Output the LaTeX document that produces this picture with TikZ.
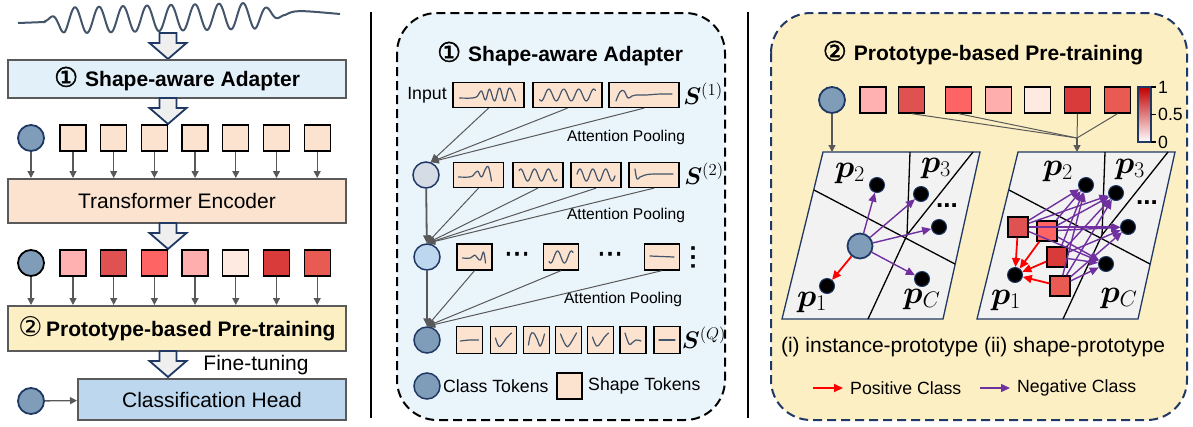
\RequirePackage{fix-cm}
\documentclass[tikz,border=0pt]{standalone}
\usepackage{fontspec}
\setmainfont{Liberation Sans}
\newfontfamily\djv{DejaVu Sans}
\newfontfamily\djvb[FakeBold=1.5]{DejaVu Sans}
\usepackage{bm}
\usetikzlibrary{arrows.meta}

\definecolor{navy}{HTML}{1F3864}
\definecolor{slate}{HTML}{44546A}
\definecolor{linegray}{HTML}{595959}
\definecolor{boxgray}{HTML}{5A5A5A}
\definecolor{arrowfill}{HTML}{EFEFEF}
\definecolor{peach}{HTML}{FBE3D0}
\definecolor{adapterblue}{HTML}{E2F0FA}
\definecolor{headblue}{HTML}{BDD7EE}
\definecolor{protoyellow}{HTML}{FDEFC4}
\definecolor{panelblue}{HTML}{EAF4FB}
\definecolor{clsblue}{HTML}{7F9DB8}
\definecolor{clsgray}{HTML}{D6DCE5}
\definecolor{planegray}{HTML}{F2F2F2}
\definecolor{negpurple}{HTML}{7030A0}
\definecolor{barred}{HTML}{C00000}
\definecolor{w1}{HTML}{FFB1B1}
\definecolor{w2}{HTML}{E05252}
\definecolor{w3}{HTML}{FF6464}
\definecolor{w4}{HTML}{FFAEAE}
\definecolor{w5}{HTML}{FFEAE2}
\definecolor{w6}{HTML}{D93B3B}
\definecolor{w7}{HTML}{E85A52}

\newcommand\fsmain{\fontsize{21}{25}\selectfont}
\newcommand\fssmall{\fontsize{17.7}{21}\selectfont}
\newcommand\fstiny{\fontsize{15.6}{19}\selectfont}
\newcommand\fsmath{\fontsize{24}{28}\selectfont}
\newcommand\fsproto{\fontsize{32}{36}\selectfont}
\newcommand\fsdots{\fontsize{26}{26}\selectfont}

% little signal sketches inside the shape tokens
\newcommand\trace[2]{\draw[shapeline, shift={(#1.center)}] plot[smooth, tension=0.7] coordinates {#2};}
\newcommand\tracesine[5]{\draw[shapeline, shift={(#1.center)}] plot[domain=#2:#3, samples=60] (\x,{#4*sin(#5*\x)});}

\begin{document}
\begin{tikzpicture}[x=1pt, y=-1pt,
    tok/.style={draw=black, line width=1.3pt, minimum size=26pt, inner sep=0pt},
    seg/.style={draw=black, line width=1.3pt, fill=peach, minimum height=25pt, inner sep=0pt},
    cls/.style={circle, draw=navy, line width=1.8pt, fill=clsblue, minimum size=26pt, inner sep=0pt},
    bigbox/.style={draw=boxgray, line width=2pt, minimum width=338pt, inner sep=0pt, font=\fsmain},
    feed/.style={draw=linegray, line width=1.3pt, -{Triangle[length=7pt, width=7pt]}},
    pool/.style={draw=linegray, line width=1pt, -{Triangle[length=8pt, width=7pt]}},
    panel/.style={rounded corners=40pt, line width=2pt, dash pattern=on 9pt off 5pt},
    plane/.style={draw=navy, line width=1.3pt, fill=planegray},
    cell/.style={draw=black, line width=1.3pt},
    proto/.style={circle, fill=black, draw=navy, line width=1pt, minimum size=15pt, inner sep=0pt},
    posarrow/.style={draw=red, line width=1.8pt, -{Triangle[length=9pt, width=8pt]}},
    negarrow/.style={draw=negpurple, line width=1.4pt, -{Triangle[length=9pt, width=8pt]}},
    shapeline/.style={draw=slate, line width=1.2pt, line cap=round, line join=round},
    txt/.style={inner sep=0pt},
    bigarrow/.pic={\draw[navy, line width=1.8pt, fill=arrowfill, line join=miter]
      (-8.5,0) -- (8.5,0) -- (8.5,10) -- (18.5,10) -- (0,26) -- (-18.5,10) -- (-8.5,10) -- cycle;}
  ]
\useasboundingbox (0,0) rectangle (1193,426);

%% ---------------- left: pipeline ----------------
\draw[slate, line width=2pt, line join=round] (18,23) -- (45,22)
  -- plot[domain=45:285, samples=220] (\x,{21-6*(\x-45)/240-13*min(1,(\x-45)/20)*min(1,(285-\x)/30)*sin(15*(\x-45))})
  .. controls (295,10) .. (340,14);
\pic at (168,33) {bigarrow};
\node[bigbox, fill=adapterblue, minimum height=38pt] (adapter) at (177,79)
  {{\djvb\fontsize{27}{27}\selectfont ①}\,\,\textbf{Shape-aware Adapter}};
\pic at (168,98) {bigarrow};

\node[cls] (a0) at (31,138) {};
\foreach \x [count=\i] in {73,113.7,154.4,195.1,235.8,276.5,317.2}
  \node[tok, fill=peach] (a\i) at (\x,138) {};
\node[bigbox, fill=peach, minimum height=44pt] (enc) at (177,201) {Transformer Encoder};
\foreach \i in {0,...,7}
  \draw[feed] (a\i) -- (a\i |- enc.north);
\pic at (168,223) {bigarrow};

\node[cls, draw=black] (b0) at (31,263) {};
\foreach \x/\c [count=\i] in {73/w1,113.7/w2,154.4/w3,195.1/w4,235.8/w5,276.5/w6,317.2/w7}
  \node[tok, fill=\c] (b\i) at (\x,263) {};
\node[bigbox, fill=protoyellow, minimum height=45pt] (pretrain) at (177,328.5)
  {{\djv\fontsize{27}{27}\selectfont ②}\,\textbf{Prototype-based Pre-training}};
\foreach \i in {0,...,7}
  \draw[feed] (b\i) -- (b\i |- pretrain.north);
\pic at (168,351) {bigarrow};
\node[font=\fsmain] (finetune) at (256,365) {Fine-tuning};

\node[bigbox, fill=headblue, minimum width=268pt, minimum height=41pt] (head) at (212,399.5) {Classification Head};
\node[cls] (c0) at (31,401) {};
\draw[feed] (c0) -- (head);

\draw[line width=1.5pt] (371,12) -- (371,418);
\draw[line width=1.5pt] (748,12) -- (748,418);

%% ---------------- middle: shape-aware adapter ----------------
\draw[panel, fill=panelblue, draw=black] (397,13) rectangle (725,420);
\node[font=\fsmain] (adtitle) at (560,54)
  {{\djvb\fontsize{27}{27}\selectfont ①}\,\,\textbf{Shape-aware Adapter}};

\node[font=\fssmall] (inp) at (427,95) {Input};
\foreach \x/\w [count=\i] in {488.5/71,567.5/69,644/70}
  \node[seg, minimum width=\w*1pt] (r1\i) at (\x,95) {};
\node[font=\fsmath] (s1) at (703,94) {$\bm{S}^{(1)}$};
\trace{r11}{(-29,3) (-16,3) (-11,1) (-7,-4) (-3,5) (1,-6) (6,6) (11,-7) (16,6) (21,-7) (27,6)}
\tracesine{r12}{-28}{28}{6}{24}
\trace{r13}{(-28,6) (-24,-3) (-20,-4) (-16,3) (-12,1) (-8,0) (2,0) (16,-1) (28,-1)}
\node[font=\fstiny] (ap1) at (626,137) {Attention Pooling};

\node[cls, fill=clsgray, line width=1.5pt] (c1) at (426,175) {};
\foreach \x [count=\i] in {478.5,538,596,654}
  \node[seg, minimum width=50pt] (r2\i) at (\x,175) {};
\node[font=\fsmath] (s2) at (704,174) {$\bm{S}^{(2)}$};
\trace{r21}{(-20,2) (-9,2) (-5,0) (-1,-4) (3,2) (7,-6) (10,-8) (13,6)}
\tracesine{r22}{-19}{19}{6}{26}
\tracesine{r23}{-19}{19}{6}{28}
\trace{r24}{(-19,-6) (-17,4) (-14,2) (-9,0) (0,-1) (19,-1)}
\foreach \i in {1,2,3}
  \draw[pool] (r1\i.south) -- (c1.70);
\node[font=\fstiny] (ap2) at (626,215) {Attention Pooling};

\node[cls, fill=headblue, line width=1.5pt] (c2) at (427,257) {};
\foreach \x [count=\i] in {474.5,561,662}
  \node[seg, minimum width=35pt, minimum height=26pt] (r3\i) at (\x,257) {};
\node[font=\fsdots] (dm1) at (517,257) {\djvb ⋯};
\node[font=\fsdots] (dm2) at (610,257) {\djvb ⋯};
\node[font=\fsdots] (vd) at (693,257) {\djvb ⋮};
\trace{r31}{(-12,1) (-4,1) (0,-2) (3,1) (6,3) (9,-5) (11,6)}
\tracesine{r32}{-12}{12}{6}{26}
\trace{r33}{(-12,-1) (12,0)}
\foreach \i in {1,...,4}
  \draw[pool] (r2\i.south) -- (c2.north);
\draw[pool, line width=1.8pt] (c1) -- (c2);
\node[font=\fstiny] (ap3) at (623,299) {Attention Pooling};

\node[cls, line width=1.5pt] (c3) at (427,340) {};
\foreach \x [count=\i] in {469.5,503.5,536.5,568.5,600.5,633,667}
  \node[seg, minimum width=26pt, minimum height=27pt] (r4\i) at (\x,340) {};
\node[font=\fsmath] (sq) at (704,338) {$\bm{S}^{(Q)}$};
\trace{r41}{(-9,1) (0,0) (9,0)}
\trace{r42}{(-8,-2) (-5,6) (-2,5) (3,-2) (8,-7)}
\trace{r43}{(-8,5) (-6,-5) (-3,-7) (1,0) (4,6) (8,-6)}
\trace{r44}{(-8,-6) (-3,5) (0,6) (4,0) (8,-7)}
\trace{r45}{(-8,-3) (-4,6) (0,3) (4,-3) (8,-7)}
\trace{r46}{(-8,-7) (-4,4) (-1,3) (3,0) (8,1)}
\trace{r47}{(-8,0) (8,0)}
\foreach \i in {1,2,3}
  \draw[pool] (r3\i.south) -- (c3.north);
\draw[pool, line width=1.8pt] (c2) -- (c3);

\node[cls, line width=1.5pt] (lcls) at (427,386) {};
\node[txt, anchor=west, font=\fssmall] (lclst) at (443,386) {Class Tokens};
\node[tok, fill=peach, minimum width=25pt] (lshp) at (569.5,386) {};
\node[txt, anchor=west, font=\fssmall] (lshpt) at (588,386) {Shape Tokens};

%% ---------------- right: prototype-based pre-training ----------------
\draw[panel, fill=protoyellow, draw=navy] (771,13) rectangle (1187,420);
\node[font=\fsmain] (prtitle) at (983,53)
  {{\djvb\fontsize{27}{27}\selectfont ②}\,\,\textbf{Prototype-based Pre-training}};

\node[cls] (q0) at (832,100) {};
\foreach \x/\c [count=\i] in {873/w1,911.5/w2,958.5/w3,998.5/w4,1037.5/w5,1077.5/w6,1117.5/w7}
  \node[tok, fill=\c] (q\i) at (\x,100) {};

% colour bar
\shade[top color=barred, bottom color=white] (1138,87) rectangle (1151,142);
\draw[navy, line width=1.5pt] (1138,87) rectangle (1151,142);
\foreach \y/\l [count=\i] in {87/1,114.5/0.5,142/0} {
  \draw[line width=1.3pt] (1151,\y) -- (1156,\y);
  \node[txt, anchor=west, font=\fssmall] (cb\i) at (1158,\y) {\l};
}

% prototype planes
\foreach \s in {0,195} {
  \begin{scope}[xshift=\s]
    \draw[plane] (823,152) -- (980,152) -- (943,319) -- (782,319) -- cycle;
    \draw[cell] (910,152) -- (907,235) -- (868,319);
    \draw[cell] (907,235) -- (973,152);
    \draw[cell] (814,190) -- (955,264);
  \end{scope}
}
\coordinate (ltop) at (832,152);
\coordinate (rtop) at (1077,152);
\coordinate (jn) at (1077,138);
\draw[feed] (q0) -- (ltop);
\foreach \i in {2,3,6,7}
  \draw[linegray, line width=1pt] (q\i.south) -- (jn);
\draw[feed] (jn) -- (rtop);

% (i) instance-prototype
\node[proto] (lp1) at (827,286) {};
\node[proto] (lp2) at (877,185) {};
\node[proto] (lp3) at (921,194) {};
\node[proto] (lpd) at (939,227) {};
\node[proto] (lpc) at (922,279) {};
\node[font=\fsproto] (lt1) at (812,302) {$\bm{p}_1$};
\node[font=\fsproto] (lt2) at (850,173) {$\bm{p}_2$};
\node[font=\fsproto] (lt3) at (936,168) {$\bm{p}_3$};
\node[font=\fsdots] (ltd) at (947,206) {\textbf{...}};
\node[font=\fsproto] (ltc) at (922,299) {$\bm{p}_C$};
\node[cls, minimum size=25pt] (inst) at (860,246) {};
\draw[posarrow] (inst) -- (lp1);
\foreach \t in {lp2,lp3,lpd,lpc}
  \draw[negarrow] (inst) -- (\t);

% (ii) shape-prototype
\node[proto] (rp1) at (1015,275) {};
\node[proto] (rp2) at (1086,185) {};
\node[proto] (rp3) at (1116,193) {};
\node[proto] (rpd) at (1128,227) {};
\node[proto] (rpc) at (1106,264) {};
\node[font=\fsproto] (rt1) at (1006,300) {$\bm{p}_1$};
\node[font=\fsproto] (rt2) at (1058,171) {$\bm{p}_2$};
\node[font=\fsproto] (rt3) at (1130,169) {$\bm{p}_3$};
\node[font=\fsdots] (rtd) at (1147,203) {\textbf{...}};
\node[font=\fsproto] (rtc) at (1119,298) {$\bm{p}_C$};
\node[tok, fill=w2, minimum size=20pt] (sa) at (1018,227) {};
\node[tok, fill=w3, minimum size=20pt] (sb) at (1047,231) {};
\node[tok, fill=w6, minimum size=20pt] (sc) at (1057,257) {};
\node[tok, fill=w7, minimum size=20pt] (sd) at (1060,286) {};
\foreach \s in {sa,sb,sc,sd} {
  \draw[posarrow] (\s) -- (rp1);
  \foreach \t in {rp2,rp3,rpd,rpc}
    \draw[negarrow] (\s) -- (\t);
}

\node[font=\fsmain] (caption) at (973,347) {(i) instance-prototype (ii) shape-prototype};
\coordinate (posa) at (813,388);
\node[txt, anchor=west, font=\fssmall] (posl) at (850,388) {Positive Class};
\draw[posarrow, shorten >=7pt] (posa) -- (posl.west);
\coordinate (nega) at (980,388);
\node[txt, anchor=west, font=\fssmall] (negl) at (1017,388) {Negative Class};
\draw[negarrow, shorten >=7pt] (nega) -- (negl.west);
\end{tikzpicture}
\end{document}
